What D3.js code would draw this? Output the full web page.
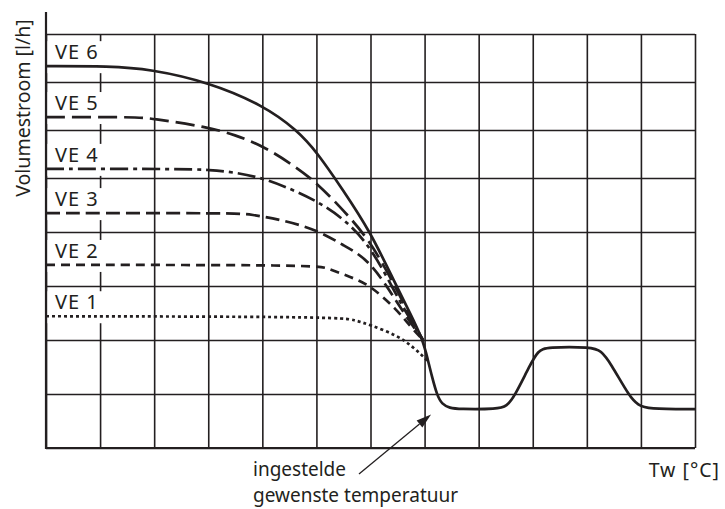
<!DOCTYPE html>
<html>
<head>
<meta charset="utf-8">
<script src="https://cdn.jsdelivr.net/npm/d3@7"></script>
<style>
  body { margin: 0; background: #fff; }
  svg { display: block; font-family: "Noto Sans", "Open Sans", sans-serif; }
</style>
</head>
<body>
<div id="chart"></div>
<script>
// curve data in grid units: x = column (0..12), y = row (0..8)
var curveNames = ["VE 6", "VE 5", "VE 4", "VE 3", "VE 2", "VE 1"]

var ve6 = [[0,7.33],[1.18,7.33],[1.92,7.27],[3.0,7.0],[4.01,6.52],[4.64,6.0],[5.01,5.54],
           [5.49,4.78],[5.99,4.02],[6.45,3.06],[6.73,2.5],[6.97,2.0]]
var ve5 = [[0,6.27],[1.6,6.27],[1.92,6.25],[3.0,6.06],[3.49,5.9],[4.01,5.67],[4.57,5.27],
           [5.01,4.91],[5.49,4.41],[5.99,3.85],[6.49,2.93],[6.73,2.44],[6.97,2.0]]
var ve4 = [[0,5.19],[2.6,5.19],[3.0,5.17],[3.49,5.12],[4.01,5.0],[4.57,4.78],[5.01,4.57],
           [5.49,4.26],[5.99,3.76],[6.49,2.81],[6.73,2.39],[6.97,2.0]]
var ve3 = [[0,4.35],[3.5,4.35],[3.77,4.33],[4.38,4.22],[5.01,4.04],[5.49,3.76],[5.99,3.48],
           [6.49,2.70],[6.73,2.33],[6.97,2.0]]
var ve2 = [[0,3.39],[5.01,3.39],[5.2,3.33],[5.62,3.17],[5.99,3.02],[6.49,2.56],[6.73,2.26],[6.97,2.0]]
var ve1 = [[0,2.44],[5.38,2.43],[5.71,2.37],[5.99,2.28],[6.49,2.09],[6.79,1.87],[7.06,1.61]]

// shared part after the curves meet (control step)
var tail = [[6.97,2.0],[7.06,1.63],[7.14,1.31],[7.23,0.98],[7.32,0.81],[7.47,0.74],[7.62,0.72],
            [8.36,0.72],[8.52,0.78],[8.65,0.93],[8.95,1.54],[9.10,1.80],[9.25,1.87],
            [10.10,1.87],[10.26,1.80],[10.43,1.59],[10.80,0.93],[10.95,0.80],[11.11,0.72],[12.0,0.72]]

var xTicks = [0,1,2,3,4,5,6,7,8,9,10,11,12]
var yTicks = [0,1,2,3,4,5,6,7,8]

var yLabel = "Volumestroom [l/h]"
var xLabel = "Tw [°C]"
var noteLines = ["ingestelde", "gewenste temperatuur"]
var notePoint = [7.12, 0.62]

var svgWidth  = 725
var svgHeight = 509
var ink = "#231f20"

var x = d3.scaleLinear().domain([0, 12]).range([46, 695])
// top three rows of the figure are a bit shorter than the rest
var y = d3.scaleLinear().domain([0, 5, 8]).range([448, 178, 34])

var svg = d3.select("#chart")
.append("svg")
.attr("width", svgWidth)
.attr("height", svgHeight)

// grid
svg.append("g")
.attr("transform", "translate(0," + y(0) + ")")
.call(d3.axisBottom(x).tickValues(xTicks).tickSize(-(y(0) - y(8))).tickFormat(""))
.call(function(g){ g.select(".domain").remove() })
.selectAll("line").attr("stroke", ink).attr("stroke-width", 1.6)

svg.append("g")
.attr("transform", "translate(" + x(0) + ",0)")
.call(d3.axisLeft(y).tickValues(yTicks).tickSize(-(x(12) - x(0))).tickFormat(""))
.call(function(g){ g.select(".domain").remove() })
.selectAll("line").attr("stroke", ink).attr("stroke-width", 1.6)

// axes
svg.append("line")
.attr("x1", x(0)).attr("x2", x(0))
.attr("y1", 12).attr("y2", y(0) + 1)
.attr("stroke", ink).attr("stroke-width", 2.2)
svg.append("line")
.attr("x1", x(0) - 1).attr("x2", x(12))
.attr("y1", y(0)).attr("y2", y(0))
.attr("stroke", ink).attr("stroke-width", 2.2)

var line = d3.line()
.x(function(d){ return x(d[0]) })
.y(function(d){ return y(d[1]) })
.curve(d3.curveBasis)

var curves = [ve6.concat(tail.slice(1)), ve5, ve4, ve3, ve2, ve1]
var dashes = [null, "19,7", "18,5,4,5", "14,6", "9,6", "3,3"]

// white boxes behind the labels (they cut the first grid column line)
curves.forEach(function(c, i){
   svg.append("rect")
   .attr("x", x(0) + 1.5)
   .attr("y", y(c[0][1]) - 25)
   .attr("width", 59)
   .attr("height", 32)
   .attr("fill", "#fff")
})

curves.forEach(function(c, i){
   svg.append("path")
   .attr("d", line(c))
   .attr("fill", "none")
   .attr("stroke", ink)
   .attr("stroke-width", 2.7)
   .attr("stroke-dasharray", dashes[i])
})

// curve labels
svg.selectAll(".lbl")
.data(curveNames)
.enter()
.append("text")
.attr("class", "lbl")
.attr("x", 55)
.attr("y", function(d, i){ return y(curves[i][0][1]) - 7 })
.attr("font-size", 20)
.attr("letter-spacing", 1)
.attr("fill", ink)
.text(function(d){ return d })

// axis titles
svg.append("text")
.attr("transform", "translate(30,108) rotate(-90)")
.attr("text-anchor", "middle")
.attr("font-size", 19.5)
.attr("fill", ink)
.text(yLabel)

svg.append("text")
.attr("x", 720).attr("y", 477)
.attr("text-anchor", "end")
.attr("font-size", 19.5)
.attr("letter-spacing", 1)
.attr("fill", ink)
.text(xLabel)

// annotation
svg.selectAll(".note")
.data(noteLines)
.enter()
.append("text")
.attr("class", "note")
.attr("x", 253)
.attr("y", function(d, i){ return 476 + i * 26 })
.attr("font-size", 19)
.attr("fill", ink)
.text(function(d){ return d })

var tipX = x(notePoint[0]), tipY = y(notePoint[1])
var startX = 359, startY = 474
var ang = Math.atan2(tipY - startY, tipX - startX)
var headLen = 15, headW = 4.5
var bx = tipX - headLen * Math.cos(ang), by = tipY - headLen * Math.sin(ang)
svg.append("line")
.attr("x1", startX).attr("y1", startY)
.attr("x2", bx).attr("y2", by)
.attr("stroke", ink).attr("stroke-width", 1.3)
svg.append("path")
.attr("d", "M" + tipX + "," + tipY +
   "L" + (bx + headW * Math.sin(ang)) + "," + (by - headW * Math.cos(ang)) +
   "L" + (bx - headW * Math.sin(ang)) + "," + (by + headW * Math.cos(ang)) + "Z")
.attr("fill", ink)
</script>
</body>
</html>
